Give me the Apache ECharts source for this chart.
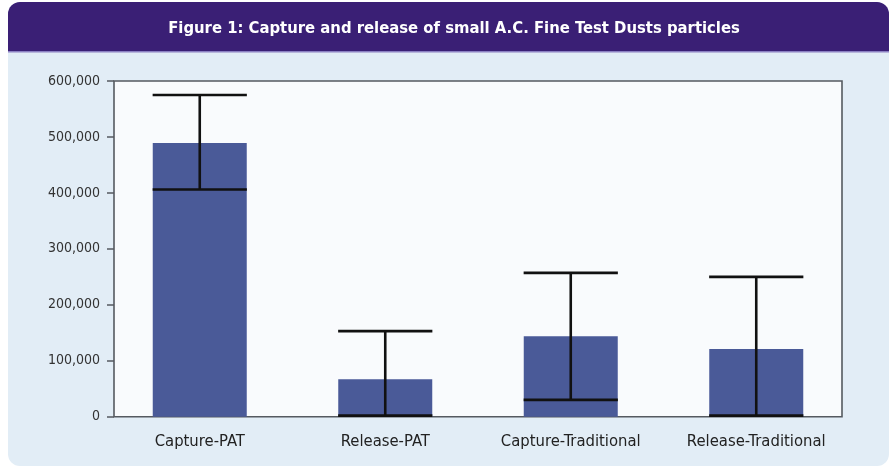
<!DOCTYPE html>
<html>
<head>
<meta charset="utf-8">
<script src="https://cdn.jsdelivr.net/npm/echarts@6/dist/echarts.min.js"></script>
<style>
  html, body { margin: 0; padding: 0; background: #ffffff; }
  #chart { width: 890px; height: 467px; }
</style>
</head>
<body>
<div id="chart"></div>
<script>
// data
var categories = ['Capture-PAT', 'Release-PAT', 'Capture-Traditional', 'Release-Traditional'];
var meanValues = [489000, 67000, 144000, 121000];
var errorLow = [406000, 2000, 30000, 2000];
var errorHigh = [575000, 153000, 257000, 250000];
var yTicks = [0, 100000, 200000, 300000, 400000, 500000, 600000];

var FONT = '"DejaVu Sans Condensed", "Liberation Sans Narrow", sans-serif';

var dom = document.getElementById('chart');
var myChart = echarts.init(dom, null, { renderer: 'canvas' });

// error bar data: [index, low, high]
var errorData = categories.map(function (c, i) {
    return [i, errorLow[i], errorHigh[i]];
});

function renderError(params, api) {
    var idx = api.value(0);
    var low = api.coord([idx, api.value(1)]);
    var high = api.coord([idx, api.value(2)]);
    var half = api.size([1, 0])[0] * 0.254;
    var style = { stroke: '#111111', lineWidth: 2.6 };
    return {
        type: 'group',
        children: [
            { type: 'line', shape: { x1: high[0], y1: high[1], x2: low[0], y2: low[1] }, style: style },
            { type: 'line', shape: { x1: high[0] - half, y1: high[1], x2: high[0] + half, y2: high[1] }, style: style },
            { type: 'line', shape: { x1: low[0] - half, y1: low[1], x2: low[0] + half, y2: low[1] }, style: style }
        ]
    };
}

var option = {
    animation: false,
    title: {
        text: 'Figure 1: Capture and release of small A.C. Fine Test Dusts particles',
        left: 449,
        top: 15,
        textAlign: 'center',
        textStyle: {
            color: '#ffffff',
            fontFamily: FONT,
            fontSize: 16.5,
            fontWeight: 'bold'
        }
    },
    graphic: [
        // light blue panel
        { type: 'rect', z: -10, shape: { x: 8, y: 2, width: 881, height: 464, r: 12 }, style: { fill: '#e2edf6' } },
        // purple header
        { type: 'rect', z: -9, shape: { x: 8, y: 2, width: 881, height: 50, r: [12, 12, 0, 0] }, style: { fill: '#3a1f75' } },
        { type: 'rect', z: -9, shape: { x: 8, y: 51, width: 881, height: 1.5 }, style: { fill: '#8b80c2' } },
        // plot frame
        { type: 'rect', z: -8, shape: { x: 114, y: 81, width: 728, height: 335.7 }, style: { fill: '#f9fbfd', stroke: '#555a60', lineWidth: 1.6 } }
    ],
    grid: {
        left: 107,
        top: 81,
        width: 742,
        height: 335.7,
        containLabel: false
    },
    xAxis: {
        type: 'category',
        data: categories,
        axisLine: { show: false },
        axisTick: { show: false },
        axisLabel: {
            interval: 0,
            color: '#222222',
            fontFamily: FONT,
            fontSize: 16.5,
            margin: 17
        }
    },
    yAxis: {
        type: 'value',
        min: yTicks[0],
        max: yTicks[yTicks.length - 1],
        interval: yTicks[1] - yTicks[0],
        offset: -7,
        axisLine: { show: false },
        axisTick: { show: true, length: 7, lineStyle: { color: '#555a60', width: 1.5 } },
        splitLine: { show: false },
        axisLabel: {
            color: '#333333',
            fontFamily: FONT,
            fontSize: 14,
            margin: 14,
            formatter: function (v) { return v.toLocaleString('en-US'); }
        }
    },
    series: [
        {
            name: 'Mean',
            type: 'bar',
            barWidth: 94,
            itemStyle: { color: '#4a5a98' },
            data: meanValues
        },
        {
            name: 'Error',
            type: 'custom',
            renderItem: renderError,
            encode: { x: 0, y: [1, 2] },
            z: 5,
            data: errorData
        }
    ]
};

myChart.setOption(option);
</script>
</body>
</html>
